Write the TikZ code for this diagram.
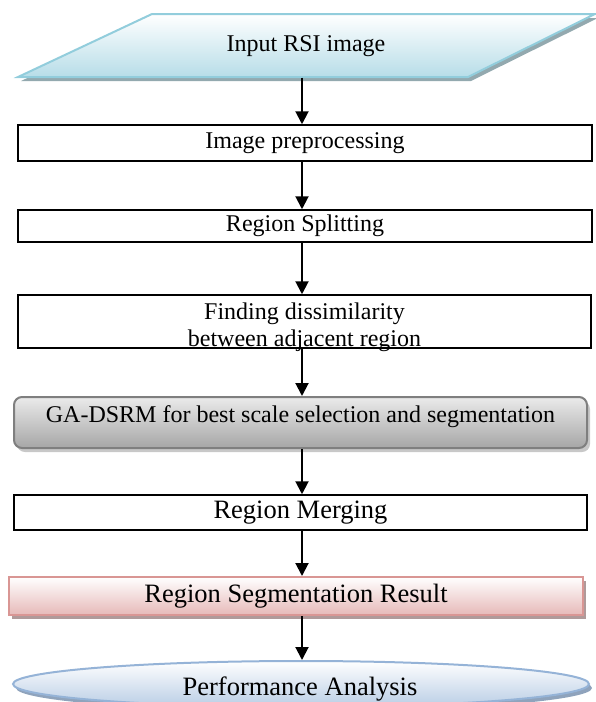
\documentclass[tikz,border=0pt]{standalone}
\usepackage{fontspec}
\setmainfont{Liberation Serif}
\usetikzlibrary{arrows.meta,shadows,shapes.geometric}
\definecolor{parafill}{HTML}{B7DDE8}
\definecolor{paraline}{HTML}{92CDDC}
\definecolor{parashadow}{HTML}{93A9AF}
\definecolor{gafill}{HTML}{A6A6A6}
\definecolor{galine}{HTML}{7F7F7F}
\definecolor{gashadow}{HTML}{C8C8C8}
\definecolor{pinkfill}{HTML}{E6B9B8}
\definecolor{pinkline}{HTML}{D99694}
\definecolor{pinkshadow}{HTML}{B09A9A}
\definecolor{ellfill}{HTML}{B9CDE5}
\definecolor{ellline}{HTML}{95B3D7}
\definecolor{ellshadow}{HTML}{8FA3BC}
\begin{document}
\begin{tikzpicture}[x=1pt,y=-1pt,
  plainbox/.style={draw=black, line width=1.5pt, fill=white, inner sep=0pt},
  txt/.style={font=\fontsize{24}{27}\selectfont, inner sep=0pt},
  bigtxt/.style={font=\fontsize{26.5}{30}\selectfont, inner sep=0pt},
  shad/.style={drop shadow={shadow xshift=3pt, shadow yshift=-4pt, fill=#1, opacity=1}},
  arr/.style={line width=2pt, -{Triangle[length=13pt,width=13pt]}},
]
\useasboundingbox (0,0) rectangle (595,702);
\coordinate (axis) at (302,0);
% input parallelogram
\path[draw=paraline, line width=2pt, top color=white, bottom color=parafill, shad=parashadow]
  (18,77) -- (152,14) -- (595,14) -- (468,77) -- cycle;
\node[txt, minimum height=63pt] (input) at (306,46) {Input RSI image};
% plain boxes
\node[plainbox, txt, minimum width=574pt, minimum height=36pt] (b1) at (305,143) {Image preprocessing};
\node[plainbox, txt, minimum width=574pt, minimum height=32pt] (b2) at (305,226) {Region Splitting};
\node[plainbox, minimum width=573pt, minimum height=53pt] (b3) at (304.5,321.5) {};
\node[txt, anchor=base] (b3a) at (304.5,319.5) {Finding dissimilarity};
\node[txt, anchor=base] (b3b) at (304.5,346.5) {between adjacent region};
% GA-DSRM rounded box
\node[draw=galine, line width=2pt, rounded corners=8pt, top color=white!92!black, bottom color=gafill,
      minimum width=573pt, minimum height=51pt, inner sep=0pt, shad=gashadow] (ga) at (300.5,422.5) {};
\node[txt, anchor=base] (gat) at (300.5,422) {GA-DSRM for best scale selection and segmentation};
% region merging
\node[plainbox, bigtxt, minimum width=573pt, minimum height=35pt] (merge) at (300.5,512.5) {Region Merging};
% region segmentation result
\node[draw=pinkline, line width=2pt, top color=white, bottom color=pinkfill, bigtxt,
      minimum width=574pt, minimum height=38pt, shad=pinkshadow] (pink) at (296,596) {Region Segmentation Result};
% performance analysis ellipse
\node[ellipse, draw=ellline, line width=2pt, top color=white, bottom color=ellfill,
      minimum width=576pt, minimum height=46pt, inner sep=0pt, shad=ellshadow] (ell) at (301,684) {};
\node[bigtxt, anchor=base] (ellt) at (300,695) {Performance Analysis};
% arrows
\draw[arr] (input.south -| axis) -- (b1.north -| axis);
\draw[arr] (b1.south -| axis) -- (b2.north -| axis);
\draw[arr] (b2.south -| axis) -- (b3.north -| axis);
\draw[arr] (b3.south -| axis) -- (ga.north -| axis);
\draw[arr] (ga.south -| axis) -- (merge.north -| axis);
\draw[arr] (merge.south -| axis) -- (pink.north -| axis);
\draw[arr] (pink.south -| axis) -- (ell.north -| axis);
\end{tikzpicture}
\end{document}
